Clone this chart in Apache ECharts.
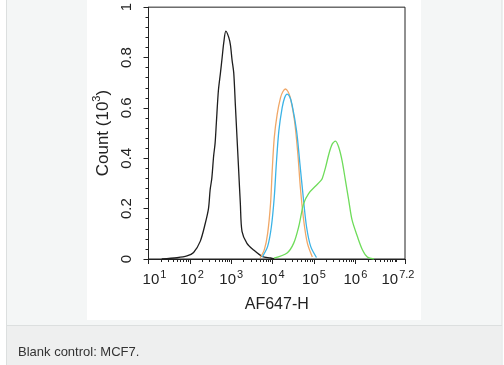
<!DOCTYPE html>
<html>
<head>
<meta charset="utf-8">
<script src="https://cdn.jsdelivr.net/npm/echarts@6/dist/echarts.min.js"></script>
<style>
html,body{margin:0;padding:0;background:#fff;}
#chart{width:504px;height:365px;}
</style>
</head>
<body>
<div id="chart"></div>
<script>
// x values are log10(AF647-H intensity); y values are counts in units of 10^3
const blackLogX = [1.32, 1.69, 1.93, 2.09, 2.25, 2.37, 2.45, 2.49, 2.53, 2.575, 2.61, 2.64, 2.69, 2.74, 2.78, 2.82, 2.87, 2.94, 2.98, 3.02, 3.06, 3.10, 3.14, 3.18, 3.22, 3.26, 3.38, 3.54, 3.75, 3.95, 4.05];
const blackCount = [0.0, 0.005, 0.012, 0.026, 0.07, 0.14, 0.2, 0.275, 0.32, 0.41, 0.46, 0.54, 0.67, 0.74, 0.8, 0.86, 0.905, 0.88, 0.85, 0.79, 0.74, 0.61, 0.48, 0.35, 0.22, 0.11, 0.062, 0.036, 0.01, 0.004, 0.0];

const orangeLogX = [3.70, 3.80, 3.88, 3.95, 3.99, 4.04, 4.11, 4.19, 4.25, 4.31, 4.37, 4.43, 4.53, 4.61, 4.67, 4.75, 4.84, 4.96];
const orangeCount = [0.005, 0.037, 0.102, 0.22, 0.351, 0.482, 0.574, 0.64, 0.665, 0.675, 0.665, 0.64, 0.548, 0.417, 0.285, 0.155, 0.063, 0.008];

const blueLogX = [3.75, 3.88, 3.97, 4.04, 4.09, 4.15, 4.23, 4.29, 4.35, 4.41, 4.47, 4.58, 4.66, 4.74, 4.82, 4.92, 5.06];
const blueCount = [0.008, 0.05, 0.128, 0.246, 0.378, 0.508, 0.6, 0.64, 0.655, 0.645, 0.613, 0.508, 0.378, 0.246, 0.128, 0.05, 0.006];

const greenLogX = [4.03, 4.35, 4.51, 4.63, 4.75, 4.87, 5.04, 5.16, 5.20, 5.28, 5.36, 5.44, 5.52, 5.60, 5.68, 5.76, 5.84, 5.92, 6.05, 6.17, 6.29, 6.45];
const greenCount = [0.003, 0.024, 0.063, 0.128, 0.22, 0.26, 0.29, 0.31, 0.32, 0.364, 0.417, 0.456, 0.468, 0.443, 0.39, 0.312, 0.233, 0.155, 0.089, 0.037, 0.008, 0.0];

const xTickExp = [1, 2, 3, 4, 5, 6, 7.2];
const xTickSup = ['1', '2', '3', '4', '5', '6', '7.2'];
const xMinorExp = [];
for (let d = 1; d <= 6; d++) { for (let k = 2; k <= 9; k++) xMinorExp.push(d + Math.log10(k)); }
xMinorExp.push(7);
const yTicks = [0, 0.2, 0.4, 0.6, 0.8, 1];
const caption = 'Blank control: MCF7.';

const zip = (xs, ys) => xs.map((x, i) => [x, ys[i]]);
const FONT = '"Liberation Sans", Arial, sans-serif';

const chart = echarts.init(document.getElementById('chart'), null, {renderer: 'canvas'});
const lineSeries = (name, xs, ys, color) => ({
  name, type: 'line', data: zip(xs, ys), showSymbol: false, smooth: 0.3,
  lineStyle: {color, width: 1.3}, itemStyle: {color}, z: 3
});

chart.setOption({
  animation: false,
  graphic: {elements: [
    {type: 'rect', z: -20, shape: {x: 0, y: 0, width: 504, height: 365}, style: {fill: '#ffffff'}},
    {type: 'rect', z: -19, shape: {x: 6.5, y: -1, width: 495.5, height: 367}, style: {fill: '#f4f6f6', stroke: '#dcdfdf', lineWidth: 1}},
    {type: 'rect', z: -18, shape: {x: 87, y: 0, width: 334, height: 320}, style: {fill: '#ffffff'}},
    {type: 'rect', z: -18, shape: {x: 7, y: 326, width: 494.5, height: 39}, style: {fill: '#eeefef'}},
    {type: 'line', z: -17, shape: {x1: 7, y1: 325.5, x2: 502, y2: 325.5}, style: {stroke: '#dcdfdf', lineWidth: 1}},
    {type: 'text', z: 5, x: 18, y: 352, style: {text: caption, fill: '#333', font: '13px ' + FONT, verticalAlign: 'middle', align: 'left'}}
  ]},
  grid: {left: 148.5, top: 5, right: 99, bottom: 106, show: true, borderColor: '#222', borderWidth: 1, backgroundColor: 'transparent'},
  xAxis: [{
    type: 'value', min: 1, max: 7.2, position: 'bottom',
    name: 'AF647-H', nameLocation: 'middle', nameGap: 38,
    nameTextStyle: {color: '#222', fontSize: 16, fontFamily: FONT},
    axisLine: {show: true, lineStyle: {color: '#222', width: 1}},
    axisTick: {show: true, customValues: xTickExp, length: 5, lineStyle: {color: '#222'}},
    splitLine: {show: false},
    axisLabel: {
      show: true, customValues: xTickExp, margin: 10, color: '#222',
      formatter: function (v) {
        const i = xTickExp.findIndex(t => Math.abs(t - v) < 1e-6);
        const sup = i >= 0 ? xTickSup[i] : '';
        if (v === 1) return '{pl| }{b|10}{s|' + sup + '}';
        if (v === 2) return '{pm| }{b|10}{s|' + sup + '}';
        if (Math.abs(v - 7.2) < 1e-6) return '{b|10}{s|' + sup + '}{pr| }';
        return '{b|10}{s|' + sup + '}';
      },
      rich: {
        b: {fontSize: 15, fontFamily: FONT, color: '#222', lineHeight: 18, verticalAlign: 'bottom'},
        s: {fontSize: 11, fontFamily: FONT, color: '#222', lineHeight: 18, verticalAlign: 'top', padding: [0, 0, 0, 1]},
        pl: {width: 12, fontSize: 10},
        pm: {width: 4, fontSize: 10},
        pr: {width: 14, fontSize: 10}
      }
    }
  }, {
    type: 'value', min: 1, max: 7.2, position: 'bottom', gridIndex: 0,
    axisLine: {show: false},
    axisTick: {show: true, customValues: xMinorExp, length: 3, lineStyle: {color: '#222'}},
    axisLabel: {show: false},
    splitLine: {show: false}
  }],
  yAxis: {
    type: 'value', min: 0, max: 1, interval: 0.2,
    name: '{n|Count (10}{s|3}{n|)}', nameLocation: 'middle', nameGap: 37,
    nameTextStyle: {
      rich: {
        n: {fontSize: 17, fontFamily: FONT, color: '#222', lineHeight: 20, verticalAlign: 'bottom'},
        s: {fontSize: 11, fontFamily: FONT, color: '#222', lineHeight: 20, verticalAlign: 'top'}
      }
    },
    axisLine: {show: true, lineStyle: {color: '#222', width: 1}},
    axisTick: {show: true, length: 5, lineStyle: {color: '#222'}},
    minorTick: {show: true, splitNumber: 5, length: 3, lineStyle: {color: '#222'}},
    splitLine: {show: false},
    axisLabel: {
      show: true, rotate: 90, margin: 14, color: '#222', fontSize: 15, fontFamily: FONT,
      formatter: v => String(Math.round(v * 10) / 10)
    }
  },
  series: [
    lineSeries('Blank', blackLogX, blackCount, '#1e1e1e'),
    lineSeries('Orange', orangeLogX, orangeCount, '#f0a868'),
    lineSeries('Blue', blueLogX, blueCount, '#3bb3e6'),
    lineSeries('Green', greenLogX, greenCount, '#6edc5a')
  ]
});
</script>
</body>
</html>
